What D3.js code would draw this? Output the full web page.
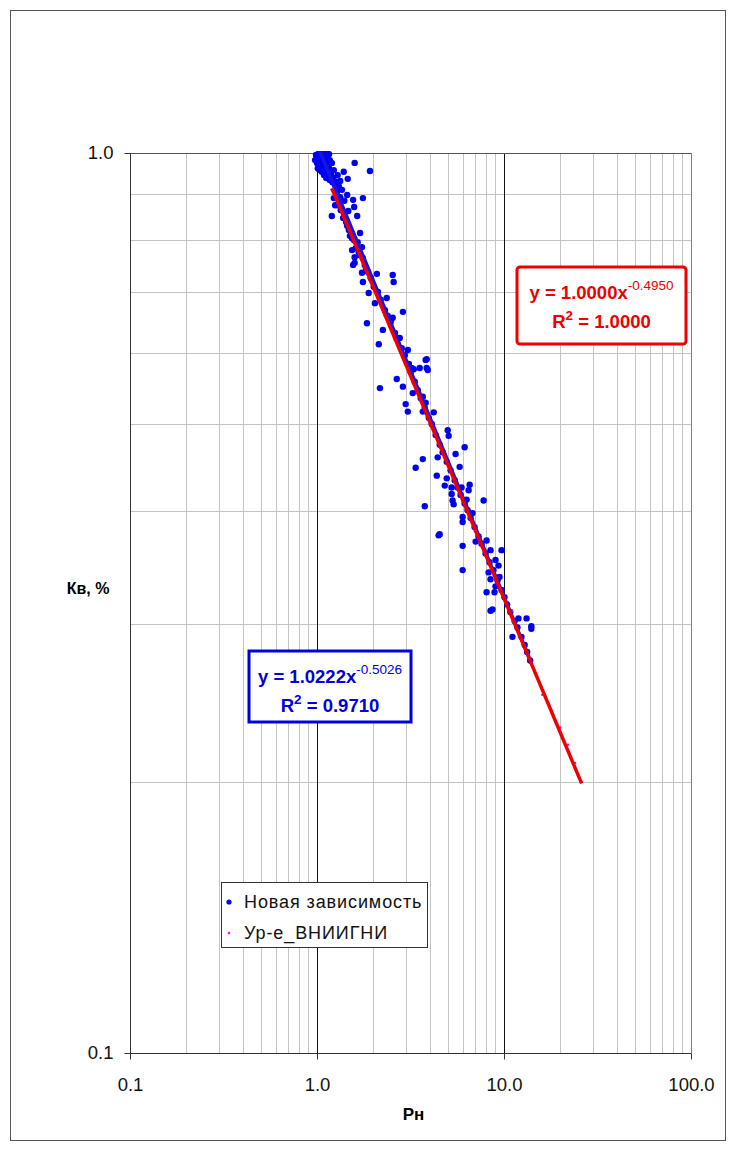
<!DOCTYPE html>
<html><head><meta charset="utf-8">
<script src="https://cdn.jsdelivr.net/npm/d3@7"></script>
<style>body{margin:0;background:#fff}svg{display:block}</style>
</head><body>
<svg id="c" width="731" height="1151"></svg>
<script>
// ---- data ----
const xTicks = [0.1, 1, 10, 100];
const xTickLabels = ["0.1", "1.0", "10.0", "100.0"];
const yTicks = [0.1, 1];
const yTickLabels = ["0.1", "1.0"];
const xTitle = "Рн";
const yTitle = "Кв, %";
const seriesNames = ["Новая зависимость", "Ур-е_ВНИИГНИ"];

// "Новая зависимость" points [Рн, Кв]
const novayaPoints = [
 [0.988,0.995],[1.01,0.990],[1.04,0.997],[1.06,0.992],[1.10,0.997],[1.16,0.997],[0.976,0.982],[1.00,0.975],[1.02,0.982],[1.05,0.977],
 [1.09,0.982],[1.13,0.987],[1.17,0.982],[1.01,0.962],[1.04,0.970],[1.08,0.965],[1.12,0.970],[1.16,0.962],[1.20,0.975],[1.06,0.953],
 [1.10,0.957],[1.14,0.953],[1.19,0.945],[1.23,0.957],[1.12,0.938],[1.17,0.933],[1.22,0.938],[1.26,0.929],[1.29,0.945],[1.25,0.921],
 [1.59,0.975],[1.92,0.955],[1.39,0.953],[1.46,0.936],[1.33,0.931],[1.36,0.910],[1.56,0.887],[1.76,0.891],[1.58,0.871],[1.20,0.851],
 [1.64,0.851],[1.25,0.875],[1.45,0.898],[1.70,0.815],[1.65,0.796],[1.54,0.780],[1.74,0.786],[1.59,0.755],[1.59,0.766],[1.56,0.751],
 [1.74,0.736],[1.76,0.719],[2.09,0.734],[2.54,0.732],[2.57,0.719],[1.89,0.699],[2.04,0.681],[2.36,0.690],[2.88,0.666],[1.85,0.647],
 [2.25,0.636],[2.54,0.656],[2.77,0.623],[2.14,0.613],[3.06,0.604],[3.86,0.590],[3.21,0.577],[3.54,0.577],[3.86,0.577],[3.91,0.574],
 [3.29,0.575],[3.81,0.589],[2.67,0.561],[2.17,0.548],[2.88,0.550],[3.25,0.541],[2.98,0.526],[3.06,0.516],[3.68,0.516],[4.21,0.515],
 [3.68,0.536],[3.81,0.528],[5.00,0.492],[5.06,0.485],[6.16,0.471],[5.51,0.463],[4.42,0.459],[3.68,0.457],[5.79,0.448],[3.37,0.447],
 [4.37,0.438],[4.94,0.435],[4.82,0.427],[5.25,0.425],[5.93,0.425],[6.55,0.428],[6.47,0.422],[5.25,0.418],[5.31,0.411],[5.38,0.407],
 [6.31,0.412],[3.77,0.405],[7.78,0.411],[6.79,0.398],[6.01,0.394],[6.01,0.389],[4.47,0.376],[6.01,0.366],[7.05,0.370],[8.07,0.371],
 [8.47,0.362],[9.70,0.362],[9.01,0.353],[9.35,0.348],[8.27,0.342],[8.47,0.336],[9.46,0.338],[6.01,0.344],[8.07,0.325],[8.90,0.325],
 [9.01,0.330],[8.68,0.311],[8.47,0.310],[11.95,0.304],[13.2,0.304],[14.0,0.298],[14.0,0.296],[11.1,0.290],[4.53,0.377],
 [1.29,0.875],[1.38,0.847],[1.45,0.830],[1.50,0.809],[1.54,0.804],[1.61,0.784],[1.67,0.776],[1.76,0.764],[1.80,0.751],[1.87,0.738],
 [1.94,0.726],[2.01,0.710],[2.12,0.701],[2.19,0.687],[2.31,0.669],[2.39,0.659],[2.48,0.649],[2.61,0.631],[2.70,0.623],[2.84,0.607],
 [2.95,0.596],[3.10,0.583],[3.17,0.571],[3.33,0.557],[3.46,0.545],[3.59,0.534],[3.77,0.521],[3.96,0.508],[4.11,0.500],[4.31,0.486],
 [4.53,0.474],[4.70,0.465],[4.94,0.454],[5.18,0.444],[5.45,0.433],[5.65,0.425],[5.86,0.417],[6.16,0.408],[6.39,0.401],[6.63,0.393],
 [6.96,0.384],[7.31,0.375],[7.59,0.368],[7.97,0.359],[8.37,0.351],[8.79,0.344],[9.23,0.335],[9.70,0.327],[10.06,0.321],[10.4,0.315],
 [10.8,0.309],[11.4,0.302],[11.8,0.297],[12.4,0.290],[12.9,0.284],[13.3,0.279],[13.8,0.273],
 [1.23,0.891],[1.34,0.864],[1.43,0.838],[1.48,0.821],[1.58,0.800],[1.64,0.788],[1.70,0.770],[1.83,0.745],
 [1.02,0.998],[1.07,0.999],[1.13,0.999],[1.00,0.990],[1.07,0.985],[1.14,0.975],[1.03,0.958],[1.09,0.945],[1.15,0.944],[1.21,0.928],
 [1.31,0.918],[1.28,0.905],[1.40,0.885],[1.33,0.893],[1.47,0.862]
];

// "Ур-е_ВНИИГНИ" points
const vniiX = [1.2,1.3,1.4,1.5,1.7,2,2.3,2.6,3,3.5,4,4.5,5,6,7,8,9,10,11,12,13,14,16,18,20,22,24,26];
const vniiY = [0.91,0.88,0.85,0.82,0.77,0.71,0.66,0.62,0.58,0.54,0.50,0.48,0.45,0.41,0.38,0.36,0.34,0.32,0.31,0.29,0.28,0.27,0.25,0.24,0.23,0.22,0.21,0.20];

// power trendlines: [a, b] for y = a*x^b, and R²
const trendNovaya = [1.0222, -0.5026];
const r2Novaya = "0.9710";
const trendVnii = [1.0000, -0.4950];
const r2Vnii = "1.0000";

// ---- drawing ----
const svg = d3.select("#c");
const L = 130, R = 691, T = 153, B = 1053;
const x = d3.scaleLog().domain([0.1, 100]).range([L, R]);
const y = d3.scaleLog().domain([0.1, 1]).range([B, T]);
const font = "Arial, 'Liberation Sans', sans-serif";

svg.append("rect").attr("x", 0).attr("y", 0).attr("width", 731).attr("height", 1151).attr("fill", "#fff");
svg.append("rect").attr("x", 10.5).attr("y", 10.5).attr("width", 715).attr("height", 1130)
  .attr("fill", "none").attr("stroke", "#555").attr("stroke-width", 1);

svg.append("defs").append("clipPath").attr("id", "clip")
  .append("rect").attr("x", L).attr("y", T - 2).attr("width", R - L).attr("height", B - T + 2);

// minor grid
const minorX = [], minorY = [];
[0.1, 1, 10].forEach(d => { for (let k = 2; k <= 9; k++) minorX.push(d * k); });
for (let k = 2; k <= 9; k++) minorY.push(0.1 * k);
const grid = svg.append("g");
grid.selectAll(".mx").data(minorX).join("line")
  .attr("x1", d => Math.round(x(d)) + 0.5).attr("x2", d => Math.round(x(d)) + 0.5)
  .attr("y1", T).attr("y2", B).attr("stroke", "#c4c4c4").attr("stroke-width", 1);
grid.selectAll(".my").data(minorY).join("line")
  .attr("y1", d => Math.round(y(d)) + 0.5).attr("y2", d => Math.round(y(d)) + 0.5)
  .attr("x1", L).attr("x2", R).attr("stroke", "#c4c4c4").attr("stroke-width", 1);
// major grid
grid.selectAll(".Mx").data(xTicks.slice(1)).join("line")
  .attr("x1", d => Math.round(x(d)) + 0.5).attr("x2", d => Math.round(x(d)) + 0.5)
  .attr("y1", T).attr("y2", B).attr("stroke", d => d === 100 ? "#808080" : "#111").attr("stroke-width", 1);
grid.append("line").attr("x1", L).attr("x2", R).attr("y1", T + 0.5).attr("y2", T + 0.5)
  .attr("stroke", "#555").attr("stroke-width", 1);

// axes
const xAxis = d3.axisBottom(x).tickValues(xTicks).tickFormat((d, i) => xTickLabels[i]).tickSize(6).tickPadding(18);
const yAxis = d3.axisLeft(y).tickValues(yTicks).tickFormat((d, i) => yTickLabels[i]).tickSize(6).tickPadding(11);
const gx = svg.append("g").attr("transform", `translate(0,${B + 0.5})`).call(xAxis);
const gy = svg.append("g").attr("transform", `translate(${L + 0.5},0)`).call(yAxis);
[gx, gy].forEach(g => {
  g.attr("font-size", null).attr("font-family", null);
  g.select(".domain").remove();
  g.selectAll(".tick line").attr("stroke", "#333");
  g.selectAll(".tick text").attr("fill", "#111").attr("font-family", font).attr("font-size", 18.5);
});
svg.append("line").attr("x1", L).attr("x2", R + 0.5).attr("y1", B + 0.5).attr("y2", B + 0.5).attr("stroke", "#333");
svg.append("line").attr("x1", L + 0.5).attr("x2", L + 0.5).attr("y1", T).attr("y2", B + 0.5).attr("stroke", "#333");

// axis titles
svg.append("text").attr("x", (L + R) / 2 + 3).attr("y", 1120).attr("text-anchor", "middle")
  .attr("font-family", font).attr("font-size", 17).attr("font-weight", "bold").text(xTitle);
svg.append("text").attr("x", 88).attr("y", 594).attr("text-anchor", "middle")
  .attr("font-family", font).attr("font-size", 16).attr("font-weight", "bold").text(yTitle);

const plot = svg.append("g").attr("clip-path", "url(#clip)");

// scatter
plot.selectAll(".pt").data(novayaPoints).join("circle")
  .attr("cx", d => x(d[0])).attr("cy", d => y(d[1])).attr("r", 3.2).attr("fill", "#0000f0");

// VNII series markers (tiny)
const vnii = vniiX.map((v, i) => [v, vniiY[i]]);
plot.selectAll(".vp").data(vnii).join("circle")
  .attr("cx", d => x(d[0])).attr("cy", d => y(d[1])).attr("r", 1.2).attr("fill", "#ff00ff");

// trendlines
function trend(coef, x0, x1) {
  return [x0, x1].map(v => [v, coef[0] * Math.pow(v, coef[1])]);
}
const line = d3.line().x(d => x(d[0])).y(d => y(d[1]));
const nx = d3.extent(novayaPoints, d => d[0]);
plot.append("path").attr("d", line(trend(trendNovaya, nx[0], nx[1])))
  .attr("stroke", "#1414e6").attr("stroke-width", 3.5).attr("fill", "none");
const vx = d3.extent(vniiX);
plot.append("path").attr("d", line(trend(trendVnii, vx[0], vx[1])))
  .attr("stroke", "#ee0000").attr("stroke-width", 3.5).attr("fill", "none");

// equation boxes
function eqBox(bx, by, bw, bh, color, coef, r2, rx) {
  const g = svg.append("g");
  g.append("rect").attr("x", bx).attr("y", by).attr("width", bw).attr("height", bh).attr("rx", rx)
    .attr("fill", "#fff").attr("stroke", color).attr("stroke-width", 3);
  const cx = bx + bw / 2;
  const t1 = g.append("text").attr("x", cx).attr("y", by + 32).attr("text-anchor", "middle")
    .attr("fill", color).attr("font-family", font).attr("font-weight", "bold").attr("font-size", 18.5);
  t1.append("tspan").text(`y = ${coef[0].toFixed(4)}x`);
  t1.append("tspan").attr("dy", -9).attr("font-size", 13.5).attr("font-weight", "normal").text(coef[1].toFixed(4));
  const t2 = g.append("text").attr("x", cx).attr("y", by + 61).attr("text-anchor", "middle")
    .attr("fill", color).attr("font-family", font).attr("font-weight", "bold").attr("font-size", 18.5);
  t2.append("tspan").text("R");
  t2.append("tspan").attr("dy", -8).attr("font-size", 13.5).text("2");
  t2.append("tspan").attr("dy", 8).text(` = ${r2}`);
}
eqBox(249, 651, 162, 71, "#0000dd", trendNovaya, r2Novaya, 0);
eqBox(517, 267, 169, 77, "#ee0000", trendVnii, r2Vnii, 3);

// legend
const lg = svg.append("g");
lg.append("rect").attr("x", 221.5).attr("y", 882.5).attr("width", 206).attr("height", 65)
  .attr("fill", "#fff").attr("stroke", "#333").attr("stroke-width", 1);
const legendColors = ["#0000ee", "#ff00ff"];
const legendR = [2.6, 1.3];
seriesNames.forEach((n, i) => {
  const yy = 902 + i * 31;
  lg.append("circle").attr("cx", 229).attr("cy", yy).attr("r", legendR[i]).attr("fill", legendColors[i]);
  lg.append("text").attr("x", 244).attr("y", yy + 6).attr("font-family", font).attr("font-size", 18)
    .attr("letter-spacing", 0.9).attr("fill", "#111").text(n);
});
</script>
</body></html>
